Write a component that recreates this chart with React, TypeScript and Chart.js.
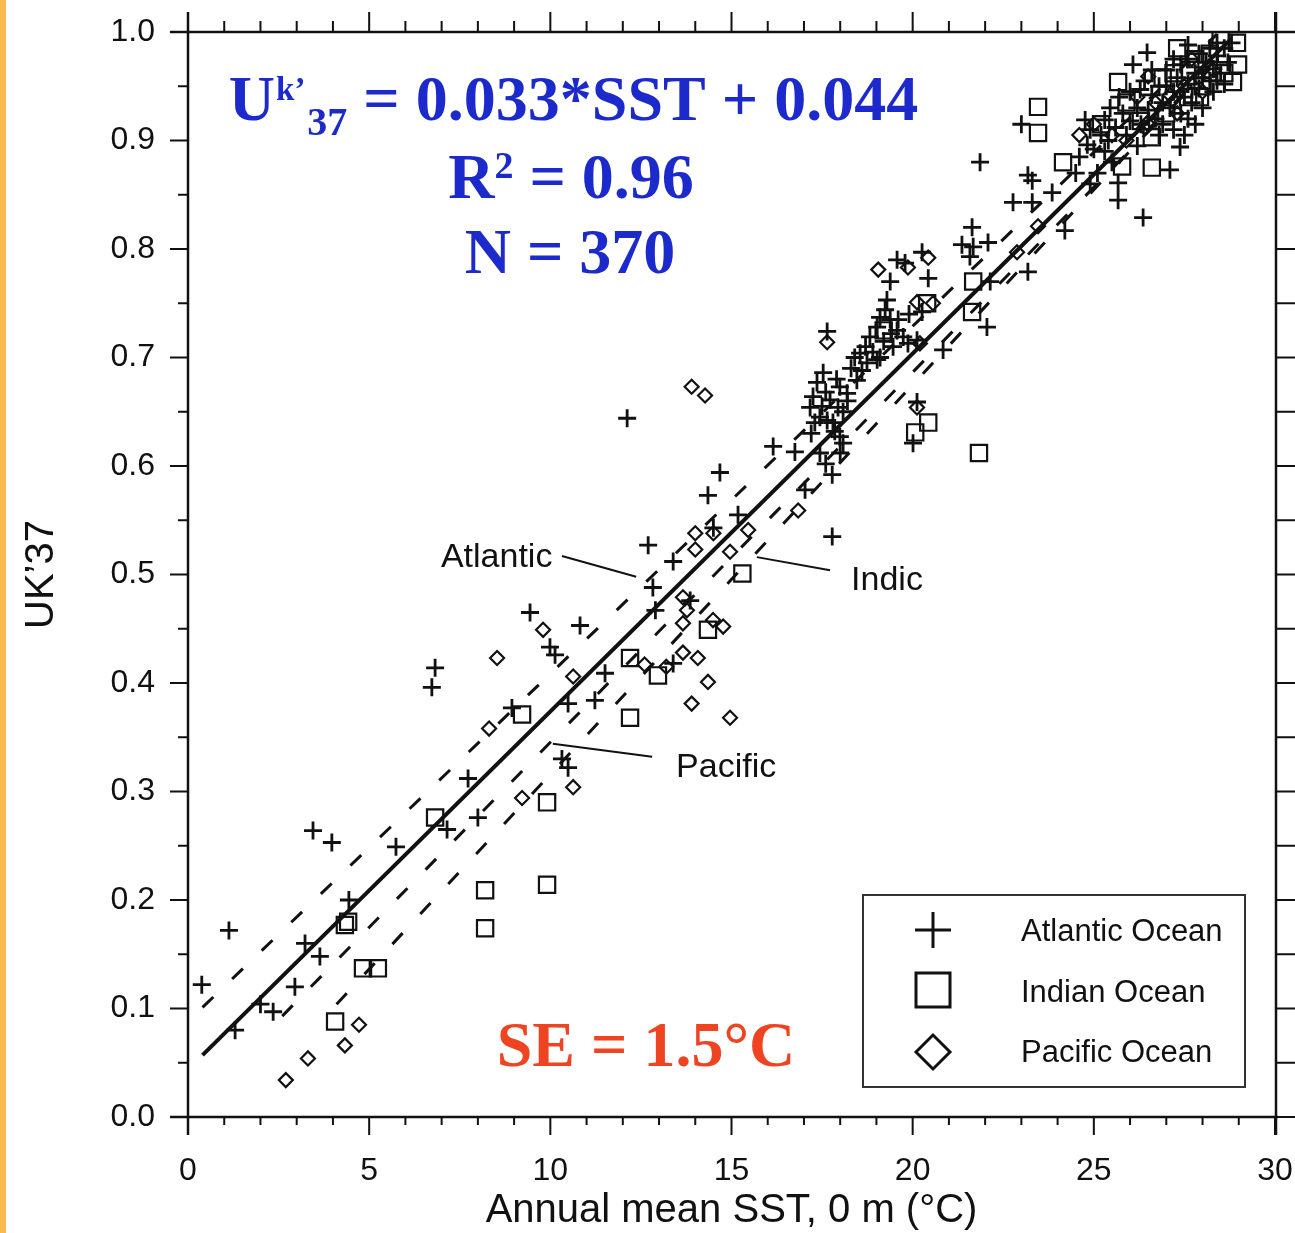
import { useEffect, useRef } from "react";
import { Chart, registerables } from "chart.js";

Chart.register(...registerables);

// ---------- tick labels ----------
const xMajorTicks = [0, 5, 10, 15, 20, 25, 30];
const yMajorTicks = [0, 0.1, 0.2, 0.3, 0.4, 0.5, 0.6, 0.7, 0.8, 0.9, 1.0];
const xTitle = "Annual mean SST, 0 m (°C)";
const yTitle = "UK’37";

// ---------- series (SST °C, UK'37) ----------
const atlantic: [number, number][] = [
  [0.38, 0.122], [1.13, 0.172], [1.3, 0.08], [2.0, 0.104], [2.35, 0.097], [2.95, 0.12],
  [3.23, 0.16], [3.64, 0.148], [3.45, 0.264], [3.97, 0.253], [4.44, 0.2], [5.74, 0.249],
  [7.15, 0.265], [7.73, 0.312], [8.0, 0.276], [6.82, 0.414], [6.73, 0.396], [8.94, 0.377],
  [9.44, 0.465], [9.99, 0.433], [10.13, 0.426], [10.82, 0.453], [10.49, 0.381], [11.23, 0.384],
  [11.51, 0.409], [10.49, 0.322], [10.32, 0.33],
  [12.12, 0.644], [12.7, 0.527], [12.83, 0.488], [12.9, 0.467], [13.39, 0.512], [13.86, 0.476],
  [13.39, 0.418], [14.5, 0.543], [14.35, 0.573], [14.68, 0.594], [15.18, 0.555], [16.15, 0.618],
  [16.75, 0.613], [17.03, 0.578], [17.78, 0.535], [17.78, 0.592],
  [17.44, 0.612], [17.53, 0.686], [17.36, 0.677], [17.25, 0.664], [17.17, 0.654], [17.44, 0.645],
  [17.72, 0.661], [17.99, 0.673], [18.19, 0.667], [18.46, 0.679], [17.94, 0.654], [18.08, 0.65],
  [17.64, 0.642], [17.8, 0.64], [17.99, 0.627], [18.08, 0.621], [17.64, 0.724], [18.55, 0.704],
  [18.74, 0.695], [19.02, 0.698], [18.6, 0.688], [19.1, 0.7], [19.46, 0.71], [19.87, 0.713],
  [19.74, 0.719], [19.57, 0.725], [19.38, 0.735], [20.12, 0.716], [18.82, 0.719], [19.02, 0.728],
  [19.1, 0.737], [19.24, 0.744], [19.29, 0.753], [19.38, 0.77], [19.57, 0.79], [19.79, 0.787],
  [20.26, 0.797], [20.43, 0.773], [20.26, 0.742], [20.84, 0.707], [20.01, 0.621], [20.12, 0.659],
  [17.3, 0.64], [17.5, 0.655], [17.6, 0.668], [17.9, 0.68], [18.3, 0.69], [18.4, 0.7],
  [18.7, 0.71], [18.9, 0.705], [19.2, 0.715], [19.4, 0.722], [18.2, 0.66], [17.85, 0.632],
  [17.2, 0.63], [19.6, 0.735], [19.9, 0.74], [18.0, 0.612], [17.6, 0.602],
  [21.36, 0.804], [21.58, 0.793], [21.67, 0.802], [21.64, 0.82], [22.08, 0.806], [22.14, 0.77],
  [22.05, 0.728], [23.18, 0.779], [21.86, 0.88],
  [22.77, 0.843], [23.3, 0.843], [23.85, 0.852], [23.18, 0.868], [23.3, 0.863], [24.2, 0.817],
  [23.0, 0.915], [24.76, 0.919], [24.82, 0.896], [24.9, 0.91], [25.3, 0.919], [25.45, 0.93],
  [26.28, 0.947], [25.67, 0.845], [25.67, 0.861], [26.36, 0.829], [26.08, 0.97], [26.47, 0.981],
  [27.6, 0.988], [27.1, 0.873], [27.38, 0.894],
  [24.5, 0.87], [24.6, 0.885], [25.0, 0.892], [25.2, 0.905], [25.4, 0.9], [25.6, 0.912],
  [25.8, 0.925], [25.9, 0.905], [26.0, 0.918], [26.2, 0.93], [26.3, 0.915], [26.5, 0.928],
  [26.6, 0.942], [26.7, 0.92], [26.9, 0.935], [27.0, 0.95], [27.1, 0.93], [27.2, 0.945],
  [27.3, 0.958], [27.4, 0.925], [27.5, 0.94], [27.6, 0.952], [27.7, 0.935], [27.8, 0.962],
  [27.9, 0.948], [28.0, 0.958], [28.1, 0.972], [28.2, 0.955], [28.3, 0.966], [28.4, 0.978],
  [28.5, 0.962], [28.6, 0.985], [28.7, 0.972], [28.8, 0.99], [27.8, 0.915], [27.5, 0.905],
  [26.8, 0.905], [26.2, 0.895], [25.5, 0.88], [25.1, 0.87], [28.3, 0.945], [28.6, 0.952],
  [27.2, 0.975], [26.6, 0.965], [25.7, 0.94],
  [26.0, 0.945], [26.4, 0.955], [26.8, 0.95], [27.0, 0.965], [27.4, 0.97], [27.6, 0.975],
  [27.9, 0.98], [28.2, 0.985], [28.4, 0.99], [26.9, 0.915], [27.2, 0.91], [27.6, 0.92],
  [28.0, 0.93], [28.4, 0.955], [25.3, 0.89], [24.9, 0.86],
];

const indian: [number, number][] = [
  [4.06, 0.088], [4.83, 0.137], [5.24, 0.137], [4.33, 0.177], [4.42, 0.18], [6.82, 0.276],
  [8.2, 0.209], [8.2, 0.174], [9.91, 0.29], [9.91, 0.214], [9.22, 0.371], [12.2, 0.423],
  [12.2, 0.368], [12.97, 0.407], [14.35, 0.449], [15.3, 0.501], [20.43, 0.64], [20.07, 0.631],
  [21.83, 0.612], [20.4, 0.75], [21.67, 0.77], [21.64, 0.742], [19.2, 0.725],
  [23.46, 0.931], [23.46, 0.907], [24.15, 0.88], [25.67, 0.954], [26.6, 0.903], [26.6, 0.875],
  [25.78, 0.876], [28.95, 0.99], [28.98, 0.97], [28.84, 0.954], [26.9, 0.958], [27.66, 0.965],
  [28.5, 0.993], [27.93, 0.94], [27.2, 0.962], [27.8, 0.975], [28.2, 0.98], [27.0, 0.925],
  [26.3, 0.918], [25.9, 0.935], [28.0, 0.95], [27.6, 0.94], [28.6, 0.962], [27.3, 0.985],
  [25.2, 0.915],
];

const pacific: [number, number][] = [
  [2.7, 0.034], [3.31, 0.054], [4.33, 0.066], [4.72, 0.085], [9.22, 0.294], [10.63, 0.304],
  [8.31, 0.358], [8.53, 0.423], [9.8, 0.449], [10.63, 0.406], [12.6, 0.417], [13.2, 0.415],
  [13.66, 0.428], [14.07, 0.423], [14.35, 0.401], [13.9, 0.381], [14.96, 0.368], [13.66, 0.479],
  [13.77, 0.467], [13.66, 0.455], [14.49, 0.458], [14.77, 0.452], [14.0, 0.538], [14.5, 0.538],
  [14.0, 0.523], [15.46, 0.541], [14.96, 0.521], [16.84, 0.559], [13.9, 0.673], [14.27, 0.665],
  [17.64, 0.714], [19.05, 0.781], [19.87, 0.783], [20.43, 0.792], [20.12, 0.751], [20.56, 0.75],
  [20.12, 0.654], [20.2, 0.713], [22.88, 0.797], [23.46, 0.821],
  [25.9, 0.9], [26.4, 0.912], [26.7, 0.935], [27.1, 0.942], [27.5, 0.95], [27.9, 0.958],
  [28.3, 0.965], [26.2, 0.94], [27.3, 0.925], [28.0, 0.945], [25.5, 0.905], [27.7, 0.975],
  [26.5, 0.959], [26.47, 0.916], [24.6, 0.905], [25.0, 0.915],
];

// regression lines (end points)
const globalFit: [number, number][] = [[0.4, 0.057], [28.8, 0.994]];
const atlanticFit: [number, number][] = [[0.4, 0.101], [28.4, 0.998]];
const pacificFit: [number, number][] = [[2.6, 0.093], [28.2, 0.966]];
const indicFit: [number, number][] = [[4.1, 0.104], [28.8, 0.991]];

const legendLabels = ["Atlantic Ocean", "Indian Ocean", "Pacific Ocean"];

// in-plot ocean labels (data coordinates)
const oceanLabels = [
  { text: "Atlantic", x: 6.98, y: 0.507, lead: [[10.32, 0.517], [12.37, 0.498]] },
  { text: "Indic", x: 18.3, y: 0.486, lead: [[15.7, 0.516], [17.72, 0.504]] },
  { text: "Pacific", x: 13.47, y: 0.313, lead: [[10.07, 0.344], [12.81, 0.332]] },
];

const SANS = '"Liberation Sans", Arial, Helvetica, sans-serif';
const SERIF = '"Liberation Serif", "Times New Roman", serif';
const INK = "#111111";
const BLUE = "#1C2ACC";
const RED = "#EE4422";

const toXY = (arr: [number, number][]) => arr.map(([x, y]) => ({ x, y }));

const decorPlugin = {
  id: "decor",
  beforeDraw(chart: any) {
    const { ctx, width, height } = chart;
    ctx.save();
    ctx.fillStyle = "#ffffff";
    ctx.fillRect(0, 0, width, height);
    ctx.fillStyle = "#FDBA50";
    ctx.fillRect(0, 0, 6, height);
    ctx.restore();
  },
  afterDraw(chart: any) {
    const { ctx, chartArea: ca, scales, width } = chart;
    const xs = scales.x;
    const ys = scales.y;
    ctx.save();
    ctx.strokeStyle = INK;
    ctx.lineCap = "butt";

    // frame
    ctx.lineWidth = 2.5;
    const L = ca.left, R = xs.getPixelForValue(30) + 1, T = ca.top, B = ca.bottom;
    ctx.beginPath();
    ctx.moveTo(L, T - 20); ctx.lineTo(L, B + 18);
    ctx.moveTo(R, T - 20); ctx.lineTo(R, B + 18);
    ctx.moveTo(L - 18, B); ctx.lineTo(R + 2, B);
    ctx.moveTo(L - 18, T); ctx.lineTo(width, T);
    ctx.stroke();

    // x ticks (bottom outward, top outward)
    ctx.lineWidth = 2;
    ctx.beginPath();
    for (let i = 0; i <= 30; i++) {
      const px = xs.getPixelForValue(i);
      const major = i % 5 === 0;
      ctx.moveTo(px, B); ctx.lineTo(px, B + (major ? 18 : 8));
      ctx.moveTo(px, T); ctx.lineTo(px, T - (major ? 20 : 11));
    }
    // y ticks (left outward, right outward)
    for (let j = 0; j <= 20; j++) {
      const v = j * 0.05;
      const py = ys.getPixelForValue(v);
      const major = j % 2 === 0;
      ctx.moveTo(L, py); ctx.lineTo(L - (major ? 18 : 10), py);
      ctx.moveTo(R, py); ctx.lineTo(width, py);
    }
    ctx.stroke();

    // ocean labels with leader lines
    ctx.fillStyle = INK;
    ctx.font = `34px ${SANS}`;
    ctx.textAlign = "left";
    ctx.textBaseline = "alphabetic";
    ctx.lineWidth = 2;
    for (const lab of oceanLabels) {
      ctx.fillText(lab.text, xs.getPixelForValue(lab.x), ys.getPixelForValue(lab.y));
      ctx.beginPath();
      ctx.moveTo(xs.getPixelForValue(lab.lead[0][0]), ys.getPixelForValue(lab.lead[0][1]));
      ctx.lineTo(xs.getPixelForValue(lab.lead[1][0]), ys.getPixelForValue(lab.lead[1][1]));
      ctx.stroke();
    }

    // equation block
    const big = `bold 64px ${SERIF}`;
    const sup = `bold 33px ${SERIF}`;
    const sub = `bold 40px ${SERIF}`;
    ctx.fillStyle = BLUE;
    ctx.textAlign = "left";
    ctx.font = big; const wU = ctx.measureText("U").width;
    ctx.font = sup; const wK = ctx.measureText("k’").width;
    ctx.font = sub; const w37 = ctx.measureText("37").width;
    const rest = " = 0.033*SST + 0.044";
    ctx.font = big; const wRest = ctx.measureText(rest).width;
    let x0 = 572 - (wU + wK + w37 + wRest) / 2;
    ctx.font = big; ctx.fillText("U", x0, 120); x0 += wU + 1;
    ctx.font = sup; ctx.fillText("k’", x0, 100); x0 += wK + 2;
    ctx.font = sub; ctx.fillText("37", x0, 135); x0 += w37;
    ctx.font = big; ctx.fillText(rest, x0, 120);

    // R^2 line
    ctx.font = big; const wR = ctx.measureText("R").width;
    const r2rest = " = 0.96";
    const wR2rest = ctx.measureText(r2rest).width;
    ctx.font = `bold 38px ${SERIF}`; const w2 = ctx.measureText("2").width;
    let x1 = 571 - (wR + w2 + wR2rest) / 2;
    ctx.font = big; ctx.fillText("R", x1, 198); x1 += wR;
    ctx.font = `bold 38px ${SERIF}`; ctx.fillText("2", x1, 178); x1 += w2;
    ctx.font = big; ctx.fillText(r2rest, x1, 198);

    // N line
    ctx.textAlign = "center";
    ctx.fillText("N = 370", 570, 273);

    // SE
    ctx.fillStyle = RED;
    ctx.fillText("SE = 1.5°C", 646, 1066);

    // legend box
    const lx = 863, ly = 895, lw = 382, lh = 192;
    ctx.fillStyle = "#ffffff";
    ctx.fillRect(lx, ly, lw, lh);
    ctx.strokeStyle = "#333333";
    ctx.lineWidth = 2;
    ctx.strokeRect(lx, ly, lw, lh);

    ctx.strokeStyle = INK;
    ctx.lineWidth = 3;
    ctx.beginPath();
    ctx.moveTo(915, 930); ctx.lineTo(951, 930);
    ctx.moveTo(933, 912); ctx.lineTo(933, 948);
    ctx.stroke();
    ctx.strokeRect(916, 973, 34, 34);
    ctx.beginPath();
    ctx.moveTo(916, 1052); ctx.lineTo(933, 1035); ctx.lineTo(950, 1052); ctx.lineTo(933, 1069);
    ctx.closePath();
    ctx.stroke();

    ctx.fillStyle = INK;
    ctx.font = `31px ${SANS}`;
    ctx.textAlign = "left";
    ctx.textBaseline = "alphabetic";
    ctx.fillText(legendLabels[0], 1021, 941);
    ctx.fillText(legendLabels[1], 1021, 1002);
    ctx.fillText(legendLabels[2], 1021, 1062);

    ctx.restore();
  },
};

export default function App() {
  const ref = useRef<HTMLCanvasElement>(null);

  useEffect(() => {
    if (!ref.current) return;
    const lineDs = (data: [number, number][], width: number, dash: number[]) => ({
      type: "line" as const,
      data: toXY(data),
      borderColor: INK,
      borderWidth: width,
      borderDash: dash,
      pointRadius: 0,
      showLine: true,
      fill: false,
      tension: 0,
    });
    const chart = new Chart(ref.current, {
      type: "scatter",
      data: {
        datasets: [
          lineDs(globalFit, 4, []),
          lineDs(atlanticFit, 3, [15, 26]),
          lineDs(pacificFit, 3, [15, 26]),
          lineDs(indicFit, 3, [15, 26]),
          {
            label: legendLabels[0],
            data: toXY(atlantic),
            pointStyle: "cross",
            pointRadius: 9,
            pointBorderWidth: 2.8,
            pointBorderColor: INK,
            pointBackgroundColor: "transparent",
          },
          {
            label: legendLabels[1],
            data: toXY(indian),
            pointStyle: "rect",
            pointRadius: 11.5,
            pointBorderWidth: 2.2,
            pointBorderColor: INK,
            pointBackgroundColor: "transparent",
          },
          {
            label: legendLabels[2],
            data: toXY(pacific),
            pointStyle: "rectRot",
            pointRadius: 7,
            pointBorderWidth: 2.2,
            pointBorderColor: INK,
            pointBackgroundColor: "transparent",
          },
        ] as any,
      },
      options: {
        animation: false,
        responsive: false,
        devicePixelRatio: 1,
        events: [],
        layout: { padding: { top: 32, right: 20, left: 0, bottom: 0 } },
        plugins: {
          legend: { display: false },
          tooltip: { enabled: false },
          title: { display: false },
        },
        scales: {
          x: {
            type: "linear",
            min: 0,
            max: 30,
            afterBuildTicks: (s: any) => {
              s.ticks = xMajorTicks.map((v) => ({ value: v }));
            },
            afterFit: (s: any) => {
              s.height = 116;
              s.paddingLeft = 0;
              s.paddingRight = 0;
              s.paddingTop = 0;
              s.paddingBottom = 0;
            },
            grid: { display: false, drawTicks: false },
            border: { display: false },
            ticks: {
              autoSkip: false,
              maxRotation: 0,
              padding: 35,
              color: INK,
              font: { size: 32, family: SANS },
              callback: (v: any) => String(v),
            },
            title: {
              display: true,
              text: xTitle,
              color: INK,
              font: { size: 40, family: SANS },
              padding: { top: 0, bottom: -2 },
            },
          },
          y: {
            type: "linear",
            min: 0,
            max: 1,
            afterBuildTicks: (s: any) => {
              s.ticks = yMajorTicks.map((v) => ({ value: v }));
            },
            afterFit: (s: any) => {
              s.width = 188;
              s.paddingLeft = 0;
              s.paddingRight = 0;
              s.paddingTop = 0;
              s.paddingBottom = 0;
            },
            grid: { display: false, drawTicks: false },
            border: { display: false },
            ticks: {
              autoSkip: false,
              padding: 33,
              color: INK,
              font: { size: 32, family: SANS },
              callback: (v: any) => Number(v).toFixed(1),
            },
            title: {
              display: true,
              text: yTitle,
              color: INK,
              font: { size: 40, family: SANS },
              padding: { top: 18, bottom: 0 },
            },
          },
        },
      },
      plugins: [decorPlugin],
    });
    return () => chart.destroy();
  }, []);

  return (
    <div style={{ position: "absolute", left: 0, top: 0, width: 1295, height: 1233, background: "#fff" }}>
      <canvas ref={ref} width={1295} height={1233} style={{ display: "block", width: 1295, height: 1233 }} />
    </div>
  );
}
